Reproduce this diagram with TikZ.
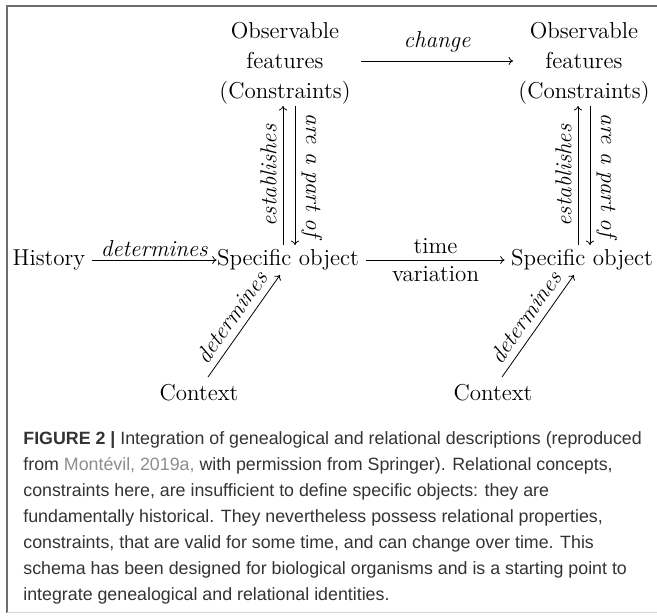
\documentclass[tikz,border=0pt]{standalone}
\usepackage{fontspec}
\newfontfamily\capfont{Liberation Sans}
\usetikzlibrary{arrows.meta}
\definecolor{frame}{HTML}{6E6E6E}
\definecolor{capgray}{HTML}{333333}
\definecolor{linkgray}{HTML}{8C8C8C}
\begin{document}
\begin{tikzpicture}[x=0.5pt,y=-0.5pt,
  lbl/.style={font=\fontsize{11.5}{15}\selectfont, inner sep=0pt, align=center},
  elbl/.style={font=\fontsize{11.5}{14}\selectfont\itshape, inner sep=0pt},
  arr/.style={-{To[length=2.2pt,width=4pt]}, line width=0.4pt},
  capt/.style={font=\capfont\fontsize{8.9}{13}\selectfont, color=capgray, inner sep=0pt, align=left, anchor=north west}]
\useasboundingbox (0,0) rectangle (657,615);
% frame
\draw[frame, line width=1pt] (657,6) -- (7,6) -- (7,613);
\draw[black!15, line width=0.6pt] (7,612.5) -- (657,612.5);
% nodes
\node[lbl] (obs1) at (285,63) {Observable\\features\\(Constraints)};
\node[lbl] (obs2) at (584,63) {Observable\\features\\(Constraints)};
\node[lbl] (hist) at (49,260) {History};
\node[lbl] (spec1) at (288,260) {Specific object};
\node[lbl] (spec2) at (582,260) {Specific object};
\node[lbl] (ctx1) at (199,393) {Context};
\node[lbl] (ctx2) at (493,393) {Context};
% helper coordinates
\coordinate (ch1) at (361,61);
\coordinate (ch2) at (513,61);
\coordinate (u1b) at (283,245);
\coordinate (u1t) at (283,106);
\coordinate (d1t) at (295,106);
\coordinate (d1b) at (295,245);
\coordinate (u2b) at (578,245);
\coordinate (u2t) at (578,106);
\coordinate (d2t) at (590,106);
\coordinate (d2b) at (590,245);
\coordinate (k1a) at (208,377);
\coordinate (k1b) at (280,275);
\coordinate (k2a) at (502,377);
\coordinate (k2b) at (574,275);
% arrows
\draw[arr] (hist.east) ++(6,0) coordinate (h0) -- (spec1.west) node[midway, above=1.5pt, elbl] {determines};
\draw[arr] (ch1) -- (ch2) node[midway, above=4pt, elbl] {change};
\draw[arr] (spec1.east) ++(7,0) coordinate (s0) -- ([xshift=-3pt]spec2.west)
  node[midway, above=3pt, lbl] {time}
  node[midway, below=3pt, lbl] {variation};
\draw[arr] (u1b) -- (u1t) node[midway, sloped, above=3pt, elbl] {establishes};
\draw[arr] (d1t) -- (d1b) node[midway, sloped, above=3pt, elbl] {are a part of};
\draw[arr] (u2b) -- (u2t) node[midway, sloped, above=3pt, elbl] {establishes};
\draw[arr] (d2t) -- (d2b) node[midway, sloped, above=3pt, elbl] {are a part of};
\draw[arr] (k1a) -- (k1b) node[midway, sloped, above=3.5pt, elbl] {determines};
\draw[arr] (k2a) -- (k2b) node[midway, sloped, above=3.5pt, elbl] {determines};
% caption
\node[capt] (cap) at (23,431) {\textbf{FIGURE 2 |} Integration of genealogical and relational descriptions (reproduced\\
from {\color{linkgray}Montévil, 2019a,} with permission from Springer). Relational concepts,\\
constraints here, are insufficient to define specific objects: they are\\
fundamentally historical. They nevertheless possess relational properties,\\
constraints, that are valid for some time, and can change over time. This\\
schema has been designed for biological organisms and is a starting point to\\
integrate genealogical and relational identities.};
\end{tikzpicture}
\end{document}
